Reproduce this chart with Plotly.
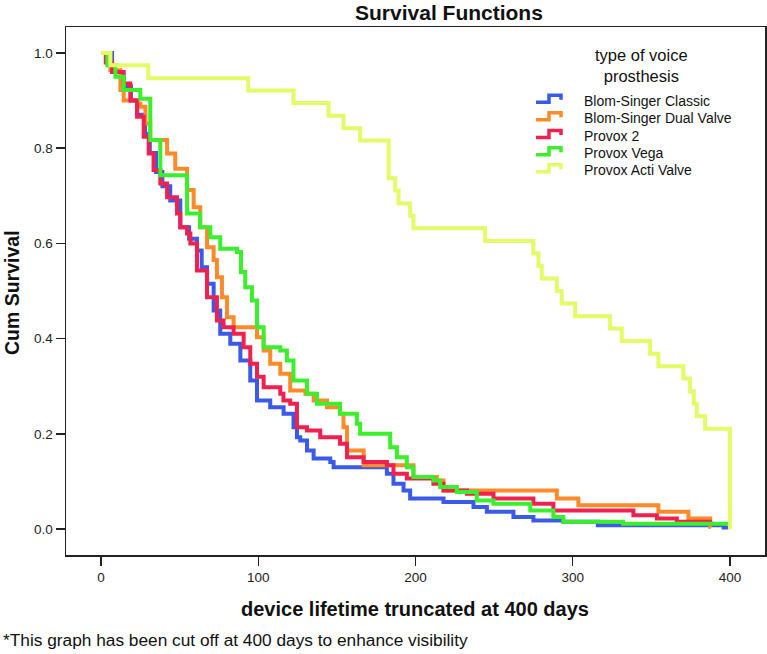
import plotly.graph_objects as go

# ---- data ----
series_names = ["Blom-Singer Classic", "Blom-Singer Dual Valve", "Provox 2", "Provox Vega", "Provox Acti Valve"]
series_colors = ["#3a5ae8", "#ff8a2a", "#f0204f", "#3cef2c", "#e4fa66"]

classic_days = [0, 7, 14, 19, 23, 28, 31, 35, 39, 44, 50.4, 56, 61, 64, 67.4, 71.6, 75.8, 82.2, 88.6, 94.9,
                99.2, 107.6, 116.1, 122.4, 124.6, 126.7, 131, 135.2, 145.8, 147.9, 181.8, 186, 192.4, 196.6,
                217.8, 236.9, 245.4, 262.3, 275, 294, 316, 396, 399]
classic_surv = [1.0, 0.96, 0.93, 0.90, 0.87, 0.83, 0.79, 0.75, 0.72, 0.69, 0.634, 0.61, 0.585, 0.55, 0.515, 0.459,
                0.410, 0.389, 0.354, 0.312, 0.270, 0.256, 0.242, 0.214, 0.193, 0.186, 0.165, 0.148, 0.141, 0.130,
                0.116, 0.095, 0.081, 0.064, 0.057, 0.046, 0.036, 0.025, 0.018, 0.015, 0.008, 0.003, 0.003]

dual_days = [0, 5.9, 12.3, 14.4, 22.9, 25, 28.2, 31.3, 42, 47.2, 54.7, 58.9, 63.1, 67.4, 71.6, 73.7, 76.9, 80.1,
             84.3, 99.2, 103.4, 107.6, 114, 120.3, 130, 135.2, 143.7, 152, 154.2, 156.4, 167, 198.7, 213.6, 217.8,
             289.9, 303.6, 354.5, 373.6, 387.4, 388]
dual_surv = [1.0, 0.964, 0.922, 0.90, 0.894, 0.887, 0.852, 0.817, 0.789, 0.757, 0.712, 0.676, 0.634, 0.592, 0.565,
             0.529, 0.487, 0.445, 0.424, 0.403, 0.375, 0.347, 0.326, 0.291, 0.284, 0.270, 0.256, 0.242, 0.214, 0.165,
             0.134, 0.109, 0.102, 0.081, 0.064, 0.050, 0.036, 0.022, 0.005, 0.005]

provox2_days = [0, 3, 7, 14.4, 18.6, 22.9, 27.1, 30.3, 33.4, 37.7, 42, 48.3, 50.4, 54.7, 56.8, 61, 67.4, 73.7, 77.9,
                84.3, 90.7, 94.9, 99.2, 103.4, 114, 116, 120.3, 124.6, 131, 139.4, 152, 156.4, 167, 181.8, 186,
                194.5, 211.4, 217.8, 232.7, 249.6, 275, 287.7, 338.6, 353.5, 366.2, 387.4, 390]
provox2_surv = [1.0, 0.98, 0.96, 0.936, 0.90, 0.866, 0.824, 0.789, 0.754, 0.726, 0.697, 0.663, 0.634, 0.621, 0.60,
                0.543, 0.487, 0.438, 0.424, 0.410, 0.382, 0.347, 0.32, 0.298, 0.284, 0.270, 0.263, 0.214, 0.207,
                0.193, 0.179, 0.151, 0.141, 0.134, 0.116, 0.106, 0.095, 0.081, 0.074, 0.064, 0.053, 0.039, 0.029,
                0.022, 0.015, 0.011, 0.011]

vega_days = [0, 4, 9.1, 14.4, 25, 31.3, 37.7, 54.7, 63, 69.5, 75.8, 86.5, 89, 91.7, 96, 99.2, 103.4, 114, 118.2,
             122.4, 131, 137.3, 152, 162.7, 164.8, 183.9, 188.2, 194.5, 198.7, 211.4, 215.7, 226.3, 239, 249.6,
             273, 287.7, 294, 332, 399]
vega_surv = [1.0, 0.974, 0.95, 0.922, 0.904, 0.817, 0.743, 0.663, 0.634, 0.613, 0.589, 0.582, 0.54, 0.508, 0.480,
             0.424, 0.382, 0.375, 0.354, 0.312, 0.284, 0.263, 0.242, 0.221, 0.200, 0.172, 0.151, 0.130, 0.109, 0.102,
             0.088, 0.078, 0.060, 0.053, 0.039, 0.025, 0.015, 0.011, 0.008]

acti_days = [0, 5.9, 30, 93.6, 122.4, 144.7, 154.2, 164.8, 182.9, 187.1, 189.2, 196.6, 198.7, 244.3, 275, 278.2,
             280.3, 289.9, 293, 301.5, 323.8, 331.2, 349.2, 354.5, 370.4, 374.6, 377, 378.9, 384.2, 400]
acti_surv = [1.0, 0.974, 0.947, 0.921, 0.895, 0.868, 0.842, 0.816, 0.737, 0.711, 0.684, 0.658, 0.632, 0.605, 0.579,
             0.553, 0.526, 0.5, 0.474, 0.447, 0.421, 0.395, 0.368, 0.342, 0.316, 0.289, 0.263, 0.237, 0.2105, 0.0]

x_tick_vals = [0, 100, 200, 300, 400]
y_tick_vals = [0.0, 0.2, 0.4, 0.6, 0.8, 1.0]
y_tick_text = ["0.0", "0.2", "0.4", "0.6", "0.8", "1.0"]

all_days = [classic_days, dual_days, provox2_days, vega_days, acti_days]
all_surv = [classic_surv, dual_surv, provox2_surv, vega_surv, acti_surv]

W, H = 767, 654
ML, MR, MT, MB = 66, 2, 27, 99
PW, PH = W - ML - MR, H - MT - MB


def px_x(px):
    return (px - ML) / PW


def px_y(py):
    return (H - MB - py) / PH


fig = go.Figure()
for name, col, d, s in zip(series_names, series_colors, all_days, all_surv):
    fig.add_trace(go.Scatter(x=d, y=s, mode="lines", name=name, showlegend=False,
                             line=dict(color=col, width=4, shape="hv")))

FONT = "Liberation Sans, Arial, sans-serif"

# manual legend with step-shaped icons
shapes = []
annotations = []
legend_rows = [100.7, 118.3, 136.0, 153.3, 170.3]
for name, col, cy in zip(series_names, series_colors, legend_rows):
    pts = [(536, cy + 1.5), (549, cy + 1.5), (549, cy - 5.5), (561, cy - 5.5), (561, cy - 1)]
    path = "M " + " L ".join(f"{px_x(a):.5f},{px_y(b):.5f}" for a, b in pts)
    shapes.append(dict(type="path", path=path, xref="paper", yref="paper",
                       line=dict(color=col, width=3.5)))
    annotations.append(dict(text=name, xref="paper", yref="paper", x=px_x(582), y=px_y(cy),
                            xanchor="left", yanchor="middle", showarrow=False,
                            font=dict(size=14, color="#111")))
annotations.append(dict(text="type of voice<br>prosthesis", xref="paper", yref="paper", x=px_x(641),
                        y=px_y(65), xanchor="center", yanchor="middle", showarrow=False,
                        font=dict(size=16.5, color="#111")))

annotations += [
    dict(text="<b>Survival Functions</b>", xref="paper", yref="paper", x=px_x(449), y=px_y(12),
         xanchor="center", yanchor="middle", showarrow=False, font=dict(size=21, color="#111")),
    dict(text="<b>device lifetime truncated at 400 days</b>", xref="paper", yref="paper", x=px_x(415),
         y=px_y(609), xanchor="center", yanchor="middle", showarrow=False, font=dict(size=20, color="#111")),
    dict(text="<b>Cum Survival</b>", xref="paper", yref="paper", x=px_x(12), y=px_y(292), textangle=-90,
         xanchor="center", yanchor="middle", showarrow=False, font=dict(size=19.5, color="#111")),
    dict(text="*This graph has been cut off at 400 days to enhance visibility", xref="paper", yref="paper",
         x=px_x(1), y=px_y(640), xanchor="left", yanchor="middle", showarrow=False,
         font=dict(size=17.3, color="#111")),
]

fig.update_layout(
    width=W, height=H,
    paper_bgcolor="white", plot_bgcolor="white",
    margin=dict(l=ML, r=MR, t=MT, b=MB),
    font=dict(family=FONT, size=13.5, color="#222"),
    showlegend=False,
    hovermode=False,
    shapes=shapes,
    annotations=annotations,
    xaxis=dict(range=[-22.3, 422.3], tickvals=x_tick_vals, ticks="outside", ticklen=9, tickwidth=1.5,
               tickcolor="#222", showgrid=False, zeroline=False, showline=True, linecolor="#222",
               linewidth=1.5, mirror=True, tickfont=dict(size=13.5, color="#222"), automargin=False),
    yaxis=dict(range=[-0.0546, 1.0546], tickvals=y_tick_vals, ticktext=y_tick_text, ticks="outside",
               ticklen=9, tickwidth=1.5, tickcolor="#222", showgrid=False, zeroline=False, showline=True,
               linecolor="#222", linewidth=1.5, mirror=True, tickfont=dict(size=13.5, color="#222"),
               automargin=False),
)

fig.write_html("out.html", config={"displayModeBar": False, "staticPlot": True},
               post_script="document.body.style.margin='0px';document.body.style.padding='0px';")
